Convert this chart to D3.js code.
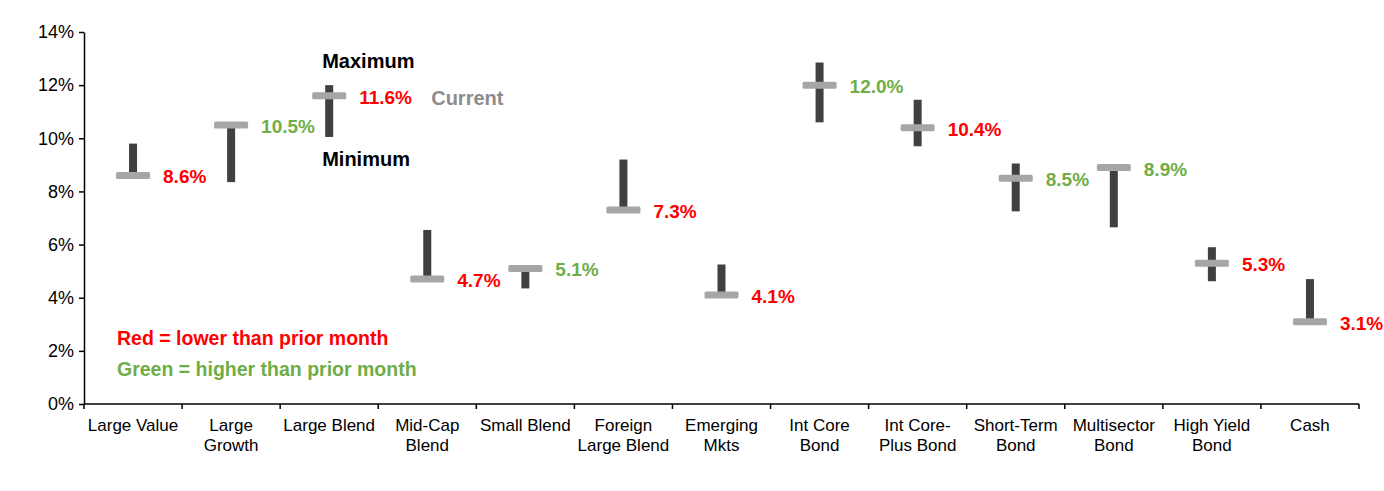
<!DOCTYPE html>
<html>
<head>
<meta charset="utf-8">
<script src="https://cdn.jsdelivr.net/npm/d3@7"></script>
<style>
  html, body { margin: 0; padding: 0; background: #fff; }
  svg { display: block; font-family: Arial, "Liberation Sans", sans-serif; }
</style>
</head>
<body>
<svg id="chart" width="1384" height="491"></svg>
<script>
// ---- Data ----
const categories = [
  ["Large Value"], ["Large", "Growth"], ["Large Blend"], ["Mid-Cap", "Blend"],
  ["Small Blend"], ["Foreign", "Large Blend"], ["Emerging", "Mkts"],
  ["Int Core", "Bond"], ["Int Core-", "Plus Bond"], ["Short-Term", "Bond"],
  ["Multisector", "Bond"], ["High Yield", "Bond"], ["Cash"]
];
const maxValues     = [9.8, 10.5, 12.0, 6.55, 5.1, 9.2, 5.25, 12.85, 11.45, 9.05, 8.9, 5.9, 4.7];
const minValues     = [8.6, 8.35, 10.05, 4.7, 4.35, 7.3, 4.1, 10.6, 9.7, 7.25, 6.65, 4.62, 3.1];
const currentValues = [8.6, 10.5, 11.6, 4.7, 5.1, 7.3, 4.1, 12.0, 10.4, 8.5, 8.9, 5.3, 3.1];
const direction     = ["down","up","down","down","up","down","down","up","down","up","up","down","down"];
const yTicks = [0, 2, 4, 6, 8, 10, 12, 14];
const legendLines = [
  { text: "Red = lower than prior month", dir: "down" },
  { text: "Green = higher than prior month", dir: "up" }
];

// ---- Styles ----
const RED = "#ff0000", GREEN = "#70ad47", DARK = "#404040", MARK = "#a6a6a6", GREYTXT = "#8c8c8c";

const svg = d3.select("#chart");
const x0 = 84, x1 = 1359, yTop = 32, yBot = 404;

const x = d3.scaleBand().domain(d3.range(categories.length)).range([x0, x1]).padding(0);
const y = d3.scaleLinear().domain([0, 14]).range([yBot, yTop]);

// Y axis
const yAxis = d3.axisLeft(y).tickValues(yTicks).tickFormat(d => d + "%").tickSize(5).tickSizeOuter(0);
const gy = svg.append("g").attr("transform", `translate(${x0},0)`).call(yAxis);
gy.select(".domain").attr("stroke", "#000").attr("stroke-width", 1.5);
gy.selectAll(".tick line").attr("stroke", "#000").attr("stroke-width", 1.5);
gy.selectAll(".tick text").attr("font-size", 18).attr("fill", "#000").attr("x", -10)
  .attr("font-family", "Arial, 'Liberation Sans', sans-serif");

// X axis (line + ticks at band boundaries)
const gx = svg.append("g").attr("transform", `translate(0,${yBot})`);
gx.append("line").attr("x1", x0).attr("x2", x1).attr("y1", 0).attr("y2", 0)
  .attr("stroke", "#000").attr("stroke-width", 1.5);
const boundaries = d3.range(categories.length + 1).map(i => i < categories.length ? x(i) : x(categories.length - 1) + x.bandwidth());
gx.selectAll("line.tk").data(boundaries).join("line").attr("class", "tk")
  .attr("x1", d => d).attr("x2", d => d).attr("y1", 0).attr("y2", 5)
  .attr("stroke", "#000").attr("stroke-width", 1.5);

// X labels
const xl = svg.append("g");
categories.forEach((lines, i) => {
  const cx = x(i) + x.bandwidth() / 2;
  const t = xl.append("text").attr("text-anchor", "middle").attr("font-size", 17).attr("fill", "#000");
  lines.forEach((ln, j) => {
    t.append("tspan").attr("x", cx).attr("y", 431 + j * 20).text(ln);
  });
});

// Range bars
const g = svg.append("g");
const data = categories.map((c, i) => ({ i, max: maxValues[i], min: minValues[i], cur: currentValues[i], dir: direction[i] }));
const barW = 8, markW = 34, markH = 7;

g.selectAll("rect.range").data(data).join("rect").attr("class", "range")
  .attr("x", d => x(d.i) + x.bandwidth() / 2 - barW / 2)
  .attr("width", barW)
  .attr("y", d => y(d.max))
  .attr("height", d => y(d.min) - y(d.max))
  .attr("fill", DARK);

g.selectAll("rect.cur").data(data).join("rect").attr("class", "cur")
  .attr("x", d => x(d.i) + x.bandwidth() / 2 - markW / 2)
  .attr("width", markW)
  .attr("y", d => y(d.cur) - markH / 2)
  .attr("height", markH)
  .attr("rx", 1.5)
  .attr("fill", MARK);

g.selectAll("text.val").data(data).join("text").attr("class", "val")
  .attr("x", d => x(d.i) + x.bandwidth() / 2 + 30)
  .attr("y", d => y(d.cur) + 8)
  .attr("font-size", 19).attr("font-weight", "bold")
  .attr("fill", d => d.dir === "up" ? GREEN : RED)
  .text(d => d.cur.toFixed(1) + "%");

// Annotations near Large Blend
const lbX = x(2) + x.bandwidth() / 2;
const ann = svg.append("g").attr("font-size", 20).attr("font-weight", "bold");
ann.append("text").attr("x", lbX - 7).attr("y", y(maxValues[2]) - 17).attr("fill", "#000").text("Maximum");
ann.append("text").attr("x", lbX - 7).attr("y", y(minValues[2]) + 29).attr("fill", "#000").text("Minimum");
ann.append("text").attr("x", lbX + 102).attr("y", y(currentValues[2]) + 9).attr("fill", GREYTXT).text("Current");

// Legend
const leg = svg.append("g").attr("font-size", 19.5).attr("font-weight", "bold");
legendLines.forEach((l, k) => {
  leg.append("text").attr("x", 117).attr("y", 345 + k * 31)
    .attr("fill", l.dir === "up" ? GREEN : RED).text(l.text);
});
</script>
</body>
</html>
